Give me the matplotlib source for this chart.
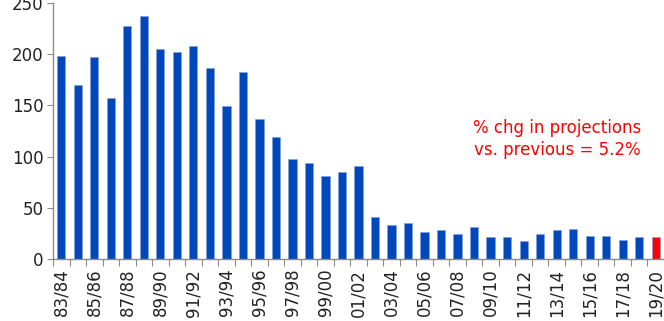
import numpy as np
import matplotlib
matplotlib.use("Agg")
import matplotlib.pyplot as plt

# seasons 83/84 .. 19/20
seasons = ["83/84", "84/85", "85/86", "86/87", "87/88", "88/89", "89/90", "90/91",
           "91/92", "92/93", "93/94", "94/95", "95/96", "96/97", "97/98", "98/99",
           "99/00", "00/01", "01/02", "02/03", "03/04", "04/05", "05/06", "06/07",
           "07/08", "08/09", "09/10", "10/11", "11/12", "12/13", "13/14", "14/15",
           "15/16", "16/17", "17/18", "18/19", "19/20"]
values = [198, 170, 197, 157, 228, 237, 205, 202, 208, 187, 149, 183, 137, 119,
          98, 94, 81, 85, 91, 41, 33, 35, 26, 28, 24, 31, 21, 21, 18, 24, 28, 29,
          22, 22, 19, 21, 21]
note = "% chg in projections\nvs. previous = 5.2%"

blue = "#0047bb"
red = "#ff0000"
grey = "#8c8c8c"

plt.rcParams["font.family"] = ["DejaVu Sans"]

fig = plt.figure(figsize=(6.64, 3.21), dpi=100)
ax = fig.add_axes([53 / 664, 62 / 321, 611 / 664, 256 / 321])

x = np.arange(len(seasons))
colors = [blue] * (len(values) - 1) + [red]
ax.bar(x, values, width=0.5, color=colors, edgecolor="#7fa0dd", linewidth=0.4)

ax.set_xlim(-0.5, len(seasons) - 0.5)
ax.set_ylim(0, 250)
ax.set_yticks(np.arange(0, 251, 50))

# tick marks between categories, labels on every other category
ax.set_xticks(np.arange(-0.5, len(seasons), 1.0))
ax.set_xticklabels([])
ax.set_xticks(x[::2], minor=True)
ax.set_xticklabels(seasons[::2], minor=True, rotation=90, fontsize=12, color="#222222")
ax.tick_params(axis="x", which="major", length=5, color=grey, direction="out")
ax.tick_params(axis="x", which="minor", length=0, pad=7)
ax.tick_params(axis="y", length=4, color=grey, labelsize=12, labelcolor="#222222", pad=3)

for s in ["top", "right"]:
    ax.spines[s].set_visible(False)
for s in ["left", "bottom"]:
    ax.spines[s].set_color(grey)
    ax.spines[s].set_linewidth(1)

fig.text(641 / 664, 1 - 119 / 321, note, color=red, fontsize=12, ha="right",
         va="top", linespacing=1.3)

fig.savefig("out.png", dpi=100)
